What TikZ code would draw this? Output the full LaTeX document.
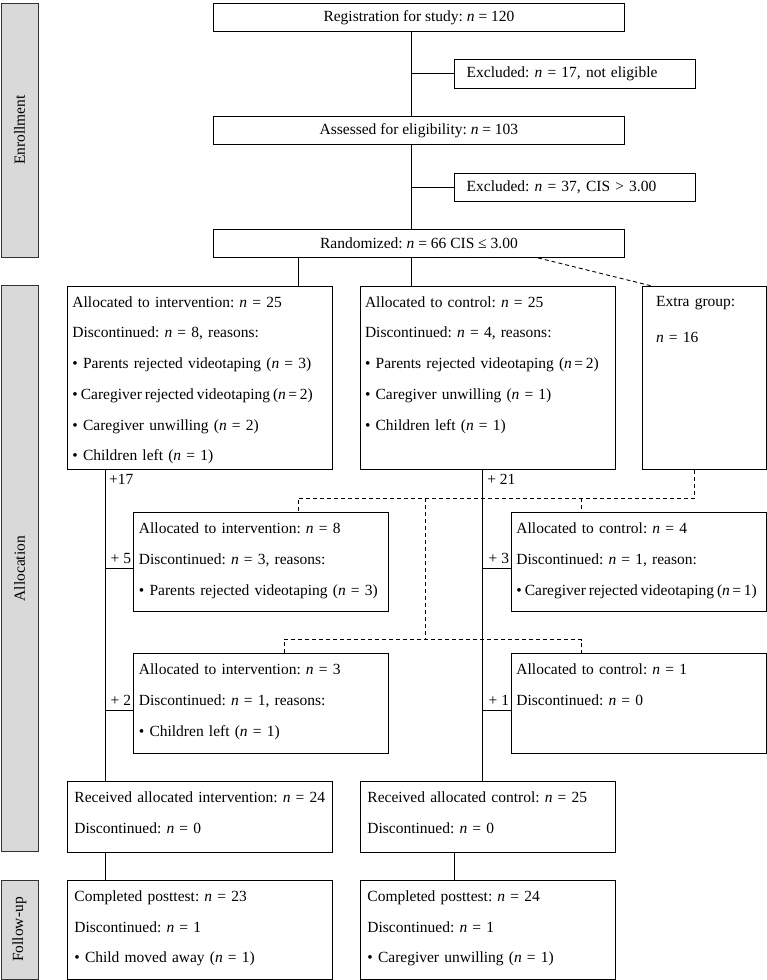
\documentclass[tikz,border=0pt]{standalone}
\usepackage{fontspec}
\setmainfont{Liberation Serif}
\usepackage{tikz}

\newcommand{\nn}{\textit{n}}
\newcommand{\tight}[1]{{\spaceskip=0.19em\relax #1}}

\begin{document}
\frenchspacing
\begin{tikzpicture}[x=1pt, y=-1pt, line width=0.9pt,
		font=\fontsize{15.5}{30.7}\selectfont,
		box_style/.style={draw=black, anchor=north west, inner sep=0pt},
		txt_style/.style={anchor=north west, inner sep=0pt, align=left, text width=255pt},
		excl_style/.style={box_style, minimum width=241pt, minimum height=28.5pt, inner xsep=12.7pt, text width=215.6pt, align=left},
		bar_style/.style={draw=black!80, fill=black!15, rotate=90, minimum height=37pt, inner sep=0pt, font=\fontsize{15.5}{17}\selectfont},
		lbl_style/.style={inner sep=1pt},
		edge_style/.style={draw=black},
		dash_style/.style={draw=black, dash pattern=on 4pt off 3pt}]

		\useasboundingbox (0,0) rectangle (767,980);

		% side bars
		\node[bar_style, minimum width=254pt] (enrol) at (19.5,130) {Enrollment};
		\node[bar_style, minimum width=566pt] (alloc) at (19.5,568.7) {Allocation};
		\node[bar_style, minimum width=99pt] (follow) at (19.5,929.5) {Follow-up};

		% enrollment
		\node[box_style, minimum width=411pt, minimum height=28pt] (reg) at (213,3) {Registration for study: \nn{} = 120};
		\node[excl_style] (excl1) at (453.5,59) {Excluded: \nn{} = 17, not eligible};
		\node[box_style, minimum width=411pt, minimum height=28pt] (assess) at (213,116) {Assessed for eligibility: \nn{} = 103};
		\node[excl_style] (excl2) at (453.5,172.5) {Excluded: \nn{} = 37, CIS > 3.00};
		\node[box_style, minimum width=411pt, minimum height=28pt] (rand) at (213,229) {Randomized: \nn{} = 66 CIS ≤ 3.00};

		% allocation
		\node[box_style, minimum width=265pt, minimum height=183.6pt] (int1) at (66.5,285.7) {};
		\node[txt_style] (int1t) at (72,296) {Allocated to intervention: \nn{} = 25\\
			Discontinued: \nn{} = 8, reasons:\\
			• Parents rejected videotaping (\nn{} = 3)\\
			\tight{• Caregiver rejected videotaping (\nn{}\,=\,2)}\\
			• Caregiver unwilling (\nn{} = 2)\\
			• Children left (\nn{} = 1)};
		\node[box_style, minimum width=255pt, minimum height=183.6pt] (ctl1) at (359.6,285.7) {};
		\node[txt_style] (ctl1t) at (364.6,296) {Allocated to control: \nn{} = 25\\
			Discontinued: \nn{} = 4, reasons:\\
			• Parents rejected videotaping (\nn{}\,=\,2)\\
			• Caregiver unwilling (\nn{} = 1)\\
			• Children left (\nn{} = 1)};
		\node[box_style, minimum width=123.5pt, minimum height=183.6pt] (extra) at (642.4,285.7) {};
		\node[txt_style, text width=105pt] (extrat) at (655.6,296) {Extra group:\\[5pt]
			\nn{} = 16};

		\node[box_style, minimum width=255pt, minimum height=98.7pt] (int2) at (133,512.3) {};
		\node[txt_style] (int2t) at (138.5,522.6) {Allocated to intervention: \nn{} = 8\\
			Discontinued: \nn{} = 3, reasons:\\
			• Parents rejected videotaping (\nn{} = 3)};
		\node[box_style, minimum width=255pt, minimum height=98.7pt] (ctl2) at (511,512.3) {};
		\node[txt_style] (ctl2t) at (516,522.6) {Allocated to control: \nn{} = 4\\
			Discontinued: \nn{} = 1, reason:\\
			\tight{• Caregiver rejected videotaping (\nn{}\,=\,1)}};

		\node[box_style, minimum width=255pt, minimum height=99.4pt] (int3) at (133,653.3) {};
		\node[txt_style] (int3t) at (138.5,663.6) {Allocated to intervention: \nn{} = 3\\
			Discontinued: \nn{} = 1, reasons:\\
			• Children left (\nn{} = 1)};
		\node[box_style, minimum width=255pt, minimum height=99.4pt] (ctl3) at (511,653.3) {};
		\node[txt_style] (ctl3t) at (516,663.6) {Allocated to control: \nn{} = 1\\
			Discontinued: \nn{} = 0};

		\node[box_style, minimum width=265pt, minimum height=70.7pt] (recint) at (66.5,781) {};
		\node[txt_style] (recintt) at (74,791.3) {Received allocated intervention: \nn{} = 24\\
			Discontinued: \nn{} = 0};
		\node[box_style, minimum width=255pt, minimum height=70.7pt] (recctl) at (359.6,781) {};
		\node[txt_style] (recctlt) at (367,791.3) {Received allocated control: \nn{} = 25\\
			Discontinued: \nn{} = 0};

		% follow-up
		\node[box_style, minimum width=265pt, minimum height=99pt] (postint) at (66.5,880) {};
		\node[txt_style] (postintt) at (74,890.3) {Completed posttest: \nn{} = 23\\
			Discontinued: \nn{} = 1\\
			• Child moved away (\nn{} = 1)};
		\node[box_style, minimum width=255pt, minimum height=99pt] (postctl) at (359.6,880) {};
		\node[txt_style] (postctlt) at (367,890.3) {Completed posttest: \nn{} = 24\\
			Discontinued: \nn{} = 1\\
			• Caregiver unwilling (\nn{} = 1)};

		% rails
		\coordinate (xl) at (105.2,0);
		\coordinate (xm) at (411.5,0);
		\coordinate (xr) at (482.3,0);
		\coordinate (xf) at (454,0);
		\coordinate (xa) at (298,0);
		\coordinate (xe) at (694.8,0);
		\coordinate (xc) at (581.5,0);
		\coordinate (xd) at (425.6,0);
		\coordinate (xi) at (284,0);
		\coordinate (ds) at (538,0);
		\coordinate (de) at (650.7,0);
		\coordinate (r2) at (0,568.7);
		\coordinate (r3) at (0,710.3);
		\coordinate (d1) at (0,498);
		\coordinate (d2) at (0,639.6);

		\draw[dash_style] (rand.south -| ds) -- (extra.north -| de);
		\draw[dash_style] (extra.south -| xe) -- (xe |- d1) -- (xa |- d1) -- (int2.north -| xa);
		\draw[dash_style] (xc |- d1) -- (ctl2.north -| xc);
		\draw[dash_style] (xd |- d1) -- (xd |- d2);
		\draw[dash_style] (int3.north -| xi) -- (xi |- d2) -- (xc |- d2) -- (ctl3.north -| xc);

		\draw[edge_style] (reg.south -| xm) -- (assess.north -| xm);
		\draw[edge_style] (assess.south -| xm) -- (rand.north -| xm);
		\draw[edge_style] (xm |- excl1.west) -- (excl1.west);
		\draw[edge_style] (xm |- excl2.west) -- (excl2.west);
		\draw[edge_style] (rand.south -| xm) -- (ctl1.north -| xm);
		\draw[edge_style] (rand.south -| xa) -- (int1.north -| xa);

		\draw[edge_style] (int1.south -| xl) -- (recint.north -| xl);
		\draw[edge_style] (xl |- r2) -- (int2.west |- r2);
		\draw[edge_style] (xl |- r3) -- (int3.west |- r3);
		\draw[edge_style] (ctl1.south -| xr) -- (recctl.north -| xr);
		\draw[edge_style] (xr |- r2) -- (ctl2.west |- r2);
		\draw[edge_style] (xr |- r3) -- (ctl3.west |- r3);
		\draw[edge_style] (recint.south -| xl) -- (postint.north -| xl);
		\draw[edge_style] (recctl.south -| xf) -- (postctl.north -| xf);

		% added counts
		\node[lbl_style, anchor=west, xshift=2.5pt, yshift=-9pt] (p17) at (xl |- int1.south) {+17};
		\node[lbl_style, anchor=west, xshift=3.5pt, yshift=-9pt] (p21) at (xr |- ctl1.south) {+ 21};
		\node[lbl_style, anchor=east, xshift=-0.5pt, yshift=3.3pt] (p5) at (int2.west) {+ 5};
		\node[lbl_style, anchor=east, xshift=-0.5pt, yshift=3.3pt] (p3) at (ctl2.west) {+ 3};
		\node[lbl_style, anchor=east, xshift=-0.5pt, yshift=3.3pt] (p2) at (int3.west) {+ 2};
		\node[lbl_style, anchor=east, xshift=-0.5pt, yshift=3.3pt] (p1) at (ctl3.west) {+ 1};

\end{tikzpicture}
\end{document}
